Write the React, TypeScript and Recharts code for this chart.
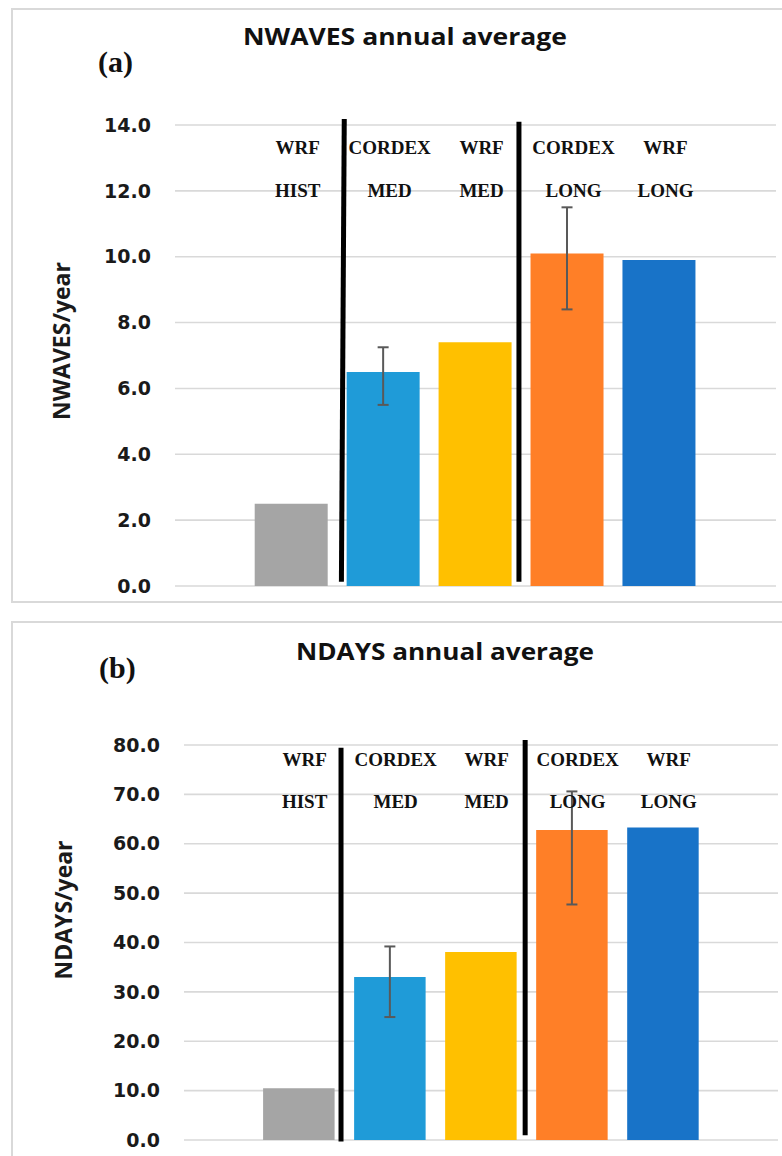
import React from 'react';
import {
  BarChart,
  Bar,
  XAxis,
  YAxis,
  CartesianGrid,
  Cell,
  ErrorBar,
  ReferenceLine,
  ReferenceDot,
} from 'recharts';

// Experiments, in plotting order
const categories = ['WRF HIST', 'CORDEX MED', 'WRF MED', 'CORDEX LONG', 'WRF LONG'];
const modelLabels = ['WRF', 'CORDEX', 'WRF', 'CORDEX', 'WRF'];
const periodLabels = ['HIST', 'MED', 'MED', 'LONG', 'LONG'];

// (a) heat-wave events per year
const nwavesMean = [2.5, 6.5, 7.4, 10.1, 9.9];
const nwavesLow = [null, 5.5, null, 8.4, null];
const nwavesHigh = [null, 7.25, null, 11.5, null];
const nwavesTicks = [0, 2, 4, 6, 8, 10, 12, 14];

// (b) heat-wave days per year
const ndaysMean = [10.5, 33.0, 38.1, 62.8, 63.3];
const ndaysLow = [null, 24.9, null, 47.7, null];
const ndaysHigh = [null, 39.2, null, 70.6, null];
const ndaysTicks = [0, 10, 20, 30, 40, 50, 60, 70, 80];

const barColors = ['#A5A5A5', '#1F9BD8', '#FFC000', '#FF7F27', '#1873C8'];

type Row = { name: string; value: number; err: [number, number] | null };

function buildRows(mean: number[], low: (number | null)[], high: (number | null)[]): Row[] {
  return categories.map((name, i) => ({
    name,
    value: mean[i],
    err:
      low[i] == null || high[i] == null
        ? null
        : [mean[i] - (low[i] as number), (high[i] as number) - mean[i]],
  }));
}

const nwavesRows = buildRows(nwavesMean, nwavesLow, nwavesHigh);
const ndaysRows = buildRows(ndaysMean, ndaysLow, ndaysHigh);

// separator segments, x in category-index units (0 = first bar centre)
type Divider = { x1: number; y1: number; x2: number; y2: number };

type PanelProps = {
  rows: Row[];
  ticks: number[];
  yLabel: string;
  height: number;
  margin: { top: number; right: number; bottom: number; left: number };
  axisWidth: number;
  pad: { left: number; right: number };
  barSize: number;
  labelRows: [number, number];
  dividers: Divider[];
  yLabelPos: { x: number; dy: number };
};

const CHART_W = 782;

const tickStyle = {
  fontFamily: '"DejaVu Sans", sans-serif',
  fontWeight: 700,
  fontSize: 19,
  fill: '#1a1a1a',
};

function Panel(p: PanelProps) {
  const yMax = p.ticks[p.ticks.length - 1];
  const n = categories.length;
  const plotW = CHART_W - p.margin.left - p.axisWidth - p.margin.right;
  const band = (plotW - p.pad.left - p.pad.right) / n;
  const sepPad = { left: p.pad.left + band / 2, right: p.pad.right + band / 2 };
  return (
    <BarChart width={CHART_W} height={p.height} data={p.rows} margin={p.margin} barSize={p.barSize}>
      <CartesianGrid vertical={false} stroke="#d9d9d9" strokeWidth={1.6} />
      <XAxis dataKey="name" hide padding={p.pad} />
      <XAxis
        xAxisId="sep"
        type="number"
        domain={[0, n - 1]}
        padding={sepPad}
        hide
        allowDataOverflow
      />
      <YAxis
        domain={[0, yMax]}
        ticks={p.ticks}
        interval={0}
        width={p.axisWidth}
        axisLine={false}
        tickLine={false}
        tickSize={0}
        tickMargin={24}
        tick={tickStyle}
        tickFormatter={(v: number) => v.toFixed(1)}
        label={{
          content: (lp: any) => {
            const vb = lp.viewBox;
            const cx = vb.x + p.yLabelPos.x;
            const cy = vb.y + vb.height / 2 + p.yLabelPos.dy;
            return (
              <text
                x={cx}
                y={cy}
                transform={`rotate(-90 ${cx} ${cy})`}
                textAnchor="middle"
                fontFamily='"Open Sans", sans-serif'
                fontWeight={700}
                fontSize={23}
                fill="#1a1a1a"
              >
                {p.yLabel}
              </text>
            );
          },
        }}
      />
      <Bar dataKey="value" isAnimationActive={false}>
        {p.rows.map((r, i) => (
          <Cell key={r.name} fill={barColors[i]} />
        ))}
        <ErrorBar dataKey="err" width={5.5} stroke="#595959" strokeWidth={2} direction="y" />
      </Bar>
      {p.dividers.map((d, i) => (
        <ReferenceLine
          key={`div-${i}`}
          xAxisId="sep"
          segment={[
            { x: d.x1, y: d.y1 },
            { x: d.x2, y: d.y2 },
          ]}
          stroke="#000"
          strokeWidth={5}
          ifOverflow="visible"
        />
      ))}
      {categories.map((c, i) =>
        [modelLabels[i], periodLabels[i]].map((txt, k) => (
          <ReferenceDot
            key={`${c}-${k}`}
            x={c}
            y={p.labelRows[k]}
            r={1}
            ifOverflow="visible"
            shape={(sp: any) => (
              <text
                x={sp.cx + 6}
                y={sp.cy}
                textAnchor="middle"
                dominantBaseline="central"
                fontFamily='"Liberation Serif", serif'
                fontWeight={700}
                fontSize={19}
                fill="#111"
              >
                {txt}
              </text>
            )}
          />
        ))
      )}
    </BarChart>
  );
}

const titleFont = '"Open Sans", sans-serif';
const tagFont = '"Liberation Serif", serif';

export default function App() {
  return (
    <div
      style={{
        position: 'absolute',
        left: 0,
        top: 0,
        width: 782,
        height: 1156,
        overflow: 'hidden',
        background: '#fff',
      }}
    >
      {/* panel frames */}
      <div
        style={{
          position: 'absolute',
          left: 10.5,
          top: 8,
          width: 800,
          height: 595,
          boxSizing: 'border-box',
          border: '2px solid #d9d9d9',
        }}
      />
      <div
        style={{
          position: 'absolute',
          left: 10.5,
          top: 621,
          width: 800,
          height: 600,
          boxSizing: 'border-box',
          border: '2px solid #d9d9d9',
        }}
      />

      <div style={{ position: 'absolute', left: 0, top: 0 }}>
        <Panel
          rows={nwavesRows}
          ticks={nwavesTicks}
          yLabel="NWAVES/year"
          height={604}
          margin={{ top: 125, right: 6, bottom: 18, left: 40 }}
          axisWidth={135}
          pad={{ left: 70.7, right: 70.6 }}
          barSize={73}
          labelRows={[13.32, 12.0]}
          dividers={[
            { x1: 0.541, y1: 0.13, x2: 0.572, y2: 14.18 },
            { x1: 2.472, y1: 0.13, x2: 2.472, y2: 14.1 },
          ]}
          yLabelPos={{ x: 29.5, dy: -14.5 }}
        />
      </div>

      <div style={{ position: 'absolute', left: 0, top: 600 }}>
        <Panel
          rows={ndaysRows}
          ticks={ndaysTicks}
          yLabel="NDAYS/year"
          height={556}
          margin={{ top: 145, right: 4, bottom: 16, left: 40 }}
          axisWidth={144}
          pad={{ left: 69.1, right: 69.8 }}
          barSize={71.5}
          labelRows={[77.1, 68.5]}
          dividers={[
            { x1: 0.466, y1: -0.3, x2: 0.466, y2: 79.45 },
            { x1: 2.489, y1: 0.95, x2: 2.489, y2: 81.0 },
          ]}
          yLabelPos={{ x: 31.5, dy: -32.5 }}
        />
      </div>

      {/* panel titles and tags */}
      <svg
        width={782}
        height={1156}
        style={{ position: 'absolute', left: 0, top: 0, pointerEvents: 'none' }}
      >
        <text
          x={243}
          y={45}
          textLength={324}
          lengthAdjust="spacingAndGlyphs"
          fontFamily={titleFont}
          fontWeight={700}
          fontSize={23}
          fill="#111"
        >
          NWAVES annual average
        </text>
        <text x={98} y={71.5} fontFamily={tagFont} fontWeight={700} fontSize={30} fill="#111">
          (a)
        </text>
        <text
          x={296}
          y={660}
          textLength={298}
          lengthAdjust="spacingAndGlyphs"
          fontFamily={titleFont}
          fontWeight={700}
          fontSize={23}
          fill="#111"
        >
          NDAYS annual average
        </text>
        <text x={99} y={678} fontFamily={tagFont} fontWeight={700} fontSize={30} fill="#111">
          (b)
        </text>
      </svg>
    </div>
  );
}
